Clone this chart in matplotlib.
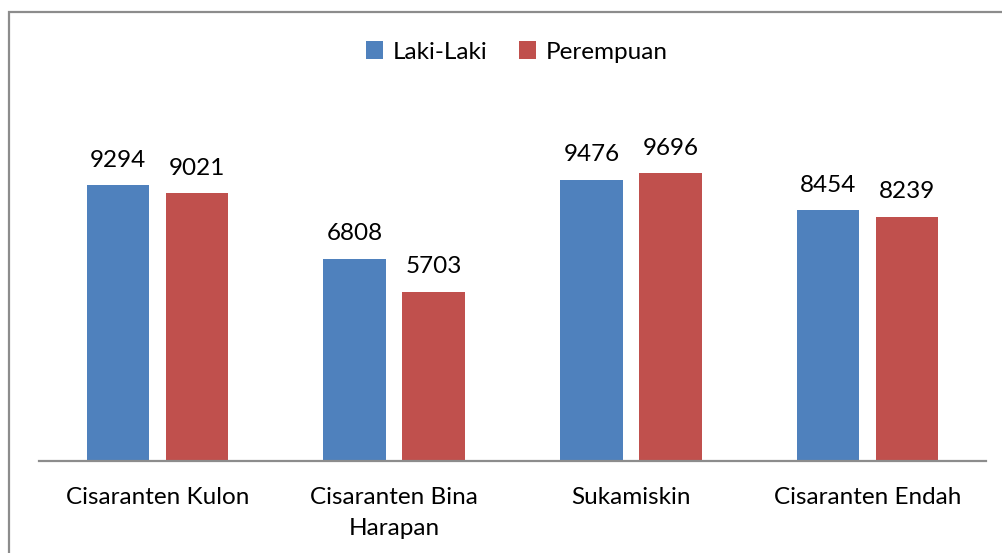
import matplotlib.pyplot as plt
import numpy as np
from matplotlib.patches import Rectangle

# data
categories = ["Cisaranten Kulon", "Cisaranten Bina\nHarapan", "Sukamiskin", "Cisaranten Endah"]
laki = [9294, 6808, 9476, 8454]
perempuan = [9021, 5703, 9696, 8239]

blue = "#4F81BD"
red = "#C0504D"

plt.rcParams['font.family'] = ['Lato', 'DejaVu Sans']

W, H = 1003, 553
fig = plt.figure(figsize=(W / 100, H / 100), dpi=100)

# outer chart border (cut off on right/bottom like the reference)
fig.patches.append(Rectangle((9.5 / W, -0.05), 1.1, 1 - 11.5 / H + 0.05,
                             transform=fig.transFigure, fill=False,
                             edgecolor="#8c8c8c", linewidth=1.6))

ax = fig.add_axes([39 / W, 1 - 461 / H, (986 - 39) / W, (461 - 105) / H])

x = np.arange(len(categories))
bw = 0.264
off = 0.167
b1 = ax.bar(x - off, laki, bw, color=blue, label="Laki-Laki")
b2 = ax.bar(x + off, perempuan, bw, color=red, label="Perempuan")

for bars in (b1, b2):
    for r in bars:
        ax.annotate(str(int(r.get_height())), (r.get_x() + r.get_width() / 2, r.get_height()),
                    xytext=(0, 10.5), textcoords="offset points", ha="center", va="bottom",
                    fontsize=17.5)

ax.set_xlim(-0.5, len(categories) - 0.5)
ax.set_ylim(0, 12000)
ax.set_yticks([])
ax.set_xticks(x)
ax.set_xticklabels(categories, fontsize=17.5, linespacing=1.55)
ax.tick_params(axis="x", length=0, pad=19)
for s in ("top", "right", "left"):
    ax.spines[s].set_visible(False)
ax.spines["bottom"].set_color("#8c8c8c")
ax.spines["bottom"].set_linewidth(1.6)

fig.legend(loc="center", bbox_to_anchor=(517 / W, 1 - 52 / H), ncol=2, frameon=False,
           fontsize=17.5, handlelength=0.7, handleheight=0.7, handletextpad=0.4,
           columnspacing=1.3)

fig.savefig("out.png", dpi=100)
